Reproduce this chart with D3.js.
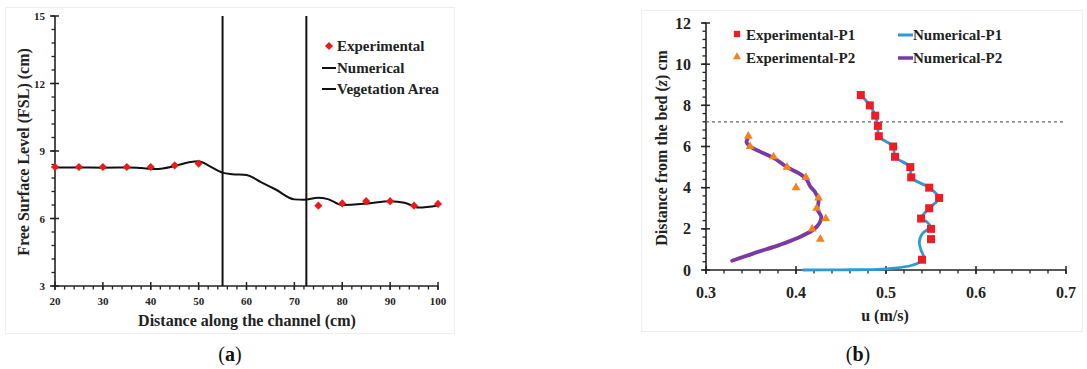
<!DOCTYPE html>
<html>
<head>
<meta charset="utf-8">
<script src="https://cdn.jsdelivr.net/npm/d3@7"></script>
<style>
  html, body { margin: 0; padding: 0; background: #fff; }
  svg { display: block; }
  svg text { font-family: "Liberation Serif", "DejaVu Serif", serif; }
</style>
</head>
<body>
<svg id="fig" width="1087" height="369"></svg>
<script>
// ---- Panel (a): free surface level along the channel ----
const expDistance = [20, 25, 30, 35, 40, 45, 50, 75, 80, 85, 90, 95, 100];
const expFSL      = [8.29, 8.29, 8.29, 8.29, 8.29, 8.36, 8.44, 6.57, 6.67, 6.77, 6.77, 6.57, 6.65];
const numDistance = [20, 25, 30, 35, 38, 41, 45, 48, 50, 52, 55, 57, 60, 63, 66, 70, 72, 75, 77, 80, 85, 90, 93, 96, 100];
const numFSL      = [8.27, 8.27, 8.26, 8.27, 8.24, 8.2, 8.33, 8.5, 8.55, 8.36, 8.04, 7.97, 7.93, 7.62, 7.3, 6.85, 6.83, 6.92, 6.86, 6.6, 6.66, 6.77, 6.7, 6.49, 6.58];
const vegetationEdges = [55, 72.5];
const ticksA_x = [20, 30, 40, 50, 60, 70, 80, 90, 100];
const ticksA_y = [3, 6, 9, 12, 15];

// ---- Panel (b): velocity profiles ----
const expP1_u = [0.472, 0.482, 0.488, 0.491, 0.492, 0.508, 0.51, 0.527, 0.528, 0.548, 0.559, 0.548, 0.539, 0.55, 0.55, 0.54];
const expP1_z = [8.5, 8.0, 7.5, 7.0, 6.5, 6.0, 5.5, 5.0, 4.5, 4.0, 3.5, 3.0, 2.5, 2.0, 1.5, 0.5];
const expP2_u = [0.347, 0.349, 0.375, 0.39, 0.411, 0.4, 0.425, 0.423, 0.433, 0.418, 0.427];
const expP2_z = [6.5, 6.0, 5.5, 5.0, 4.5, 4.0, 3.5, 3.0, 2.5, 2.0, 1.5];
const numP1_u = [0.472, 0.482, 0.488, 0.491, 0.492, 0.508, 0.51, 0.527, 0.528, 0.548, 0.559, 0.548, 0.539, 0.545, 0.549, 0.54, 0.537, 0.539, 0.542, 0.538, 0.528, 0.51, 0.49, 0.45, 0.408];
const numP1_z = [8.5, 8.0, 7.5, 7.0, 6.5, 6.0, 5.5, 5.0, 4.5, 4.0, 3.5, 3.0, 2.5, 2.35, 2.1, 1.75, 1.35, 0.95, 0.6, 0.4, 0.22, 0.09, 0.03, 0.01, 0.0];
const numP2_u = [0.346, 0.345, 0.349, 0.36, 0.375, 0.39, 0.406, 0.412, 0.416, 0.421, 0.425, 0.424, 0.428, 0.426, 0.419, 0.401, 0.382, 0.353, 0.329];
const numP2_z = [6.35, 6.2, 6.0, 5.75, 5.45, 5.0, 4.62, 4.38, 4.05, 3.8, 3.4, 2.92, 2.6, 2.27, 1.95, 1.54, 1.22, 0.81, 0.45];
const canopyHeight = 7.2;
const ticksB_x = [0.3, 0.4, 0.5, 0.6, 0.7];
const ticksB_y = [0, 2, 4, 6, 8, 10, 12];

const FONT = '"Liberation Serif", "DejaVu Serif", serif';
const svg = d3.select("#fig");

// light frames around each panel
svg.append("rect").attr("x", 5.5).attr("y", 7.5).attr("width", 449).attr("height", 326)
  .attr("fill", "none").attr("stroke", "#eeeeee").attr("stroke-width", 1);
svg.append("rect").attr("x", 641.5).attr("y", 10.5).attr("width", 441).attr("height", 321)
  .attr("fill", "none").attr("stroke", "#eeeeee").attr("stroke-width", 1);

// axis with crossing major ticks and outward minor ticks
function axisX(g, scale, y, majors, minorStep, fmt, fontSize, labelOffset) {
  const [d0, d1] = scale.domain();
  const minors = d3.range(d0, d1 + minorStep / 2, minorStep);
  const ga = g.append("g").attr("transform", `translate(0,${y})`);
  ga.append("line").attr("x1", scale(d0)).attr("x2", scale(d1)).attr("stroke", "#222").attr("stroke-width", 1.6);
  ga.selectAll("line.minor").data(minors).join("line").attr("class", "minor")
    .attr("x1", d => scale(d)).attr("x2", d => scale(d)).attr("y1", 0).attr("y2", 3.5)
    .attr("stroke", "#222").attr("stroke-width", 1.3);
  ga.selectAll("line.major").data(majors).join("line").attr("class", "major")
    .attr("x1", d => scale(d)).attr("x2", d => scale(d)).attr("y1", -4).attr("y2", 4)
    .attr("stroke", "#222").attr("stroke-width", 1.5);
  ga.selectAll("text").data(majors).join("text")
    .attr("x", d => scale(d)).attr("y", labelOffset)
    .attr("text-anchor", "middle").attr("dominant-baseline", "central")
    .attr("font-family", FONT).attr("font-size", fontSize).attr("font-weight", "bold").attr("fill", "#222")
    .text(fmt);
}
function axisY(g, scale, x, majors, minorStep, fmt, fontSize, labelOffset) {
  const [d0, d1] = scale.domain();
  const minors = d3.range(d0, d1 + minorStep / 2, minorStep);
  const ga = g.append("g").attr("transform", `translate(${x},0)`);
  ga.append("line").attr("y1", scale(d0)).attr("y2", scale(d1)).attr("stroke", "#222").attr("stroke-width", 1.6);
  ga.selectAll("line.minor").data(minors).join("line").attr("class", "minor")
    .attr("y1", d => scale(d)).attr("y2", d => scale(d)).attr("x1", -3.5).attr("x2", 0)
    .attr("stroke", "#222").attr("stroke-width", 1.3);
  ga.selectAll("line.major").data(majors).join("line").attr("class", "major")
    .attr("y1", d => scale(d)).attr("y2", d => scale(d)).attr("x1", -5).attr("x2", 4)
    .attr("stroke", "#222").attr("stroke-width", 1.5);
  ga.selectAll("text").data(majors).join("text")
    .attr("x", -labelOffset).attr("y", d => scale(d))
    .attr("text-anchor", "end").attr("dominant-baseline", "central")
    .attr("font-family", FONT).attr("font-size", fontSize).attr("font-weight", "bold").attr("fill", "#222")
    .text(fmt);
}
function label(g, x, y, size, bold) {
  return g.append("text").attr("x", x).attr("y", y).attr("dominant-baseline", "central")
    .attr("font-family", FONT).attr("font-size", size).attr("font-weight", bold ? "bold" : "normal").attr("fill", "#222");
}

// ================= Panel (a) =================
const xa = d3.scaleLinear().domain([20, 100]).range([55, 438]);
const ya = d3.scaleLinear().domain([3, 15]).range([286, 16]);
const ga = svg.append("g");

axisX(ga, xa, ya(3), ticksA_x, 2, d => d, 11, 15);
axisY(ga, ya, xa(20), ticksA_y, 0.6, d => d, 11, 10);

// vegetation area boundaries
ga.selectAll("line.veg").data(vegetationEdges).join("line").attr("class", "veg")
  .attr("x1", d => xa(d)).attr("x2", d => xa(d)).attr("y1", ya(15)).attr("y2", ya(3))
  .attr("stroke", "#111").attr("stroke-width", 2);

// numerical free surface
const numA = numDistance.map((d, i) => [d, numFSL[i]]);
ga.append("path").datum(numA)
  .attr("d", d3.line().x(d => xa(d[0])).y(d => ya(d[1])).curve(d3.curveMonotoneX))
  .attr("fill", "none").attr("stroke", "#111").attr("stroke-width", 2);

// experimental points (diamonds)
const diamond = d3.symbol().type(d3.symbolDiamond2 || d3.symbolDiamond).size(42);
ga.selectAll("path.exp").data(expDistance.map((d, i) => [d, expFSL[i]])).join("path").attr("class", "exp")
  .attr("d", diamond).attr("transform", d => `translate(${xa(d[0])},${ya(d[1])})`)
  .attr("fill", "#f01818");

// axis titles
label(ga, 247, 320, 16, true).attr("text-anchor", "middle").text("Distance along the channel (cm)");
label(ga, 0, 0, 16, true).attr("transform", "translate(23,152) rotate(-90)").attr("text-anchor", "middle")
  .text("Free Surface Level (FSL) (cm)");

// legend
const legA = ga.append("g");
legA.append("path").attr("d", diamond).attr("transform", "translate(329,46)").attr("fill", "#f01818");
legA.append("line").attr("x1", 322).attr("x2", 336).attr("y1", 68).attr("y2", 68).attr("stroke", "#111").attr("stroke-width", 2);
legA.append("line").attr("x1", 322).attr("x2", 336).attr("y1", 89).attr("y2", 89).attr("stroke", "#111").attr("stroke-width", 2);
[["Experimental", 46], ["Numerical", 68], ["Vegetation Area", 89]].forEach(([t, y]) => {
  label(legA, 337, y, 15, true).text(t);
});

// caption
label(svg, 230, 354, 20, false).attr("text-anchor", "middle").attr("fill", "#111")
  .call(t => { t.append("tspan").text("("); t.append("tspan").attr("font-weight", "bold").text("a"); t.append("tspan").text(")"); });

// ================= Panel (b) =================
const xb = d3.scaleLinear().domain([0.3, 0.7]).range([706, 1066]);
const yb = d3.scaleLinear().domain([0, 12]).range([270, 23]);
const gb = svg.append("g");

axisX(gb, xb, yb(0), ticksB_x, 0.02, d => d3.format(".1f")(d), 16, 22);
axisY(gb, yb, xb(0.3), ticksB_y, 0.4, d => d, 16, 15);

// canopy top
gb.append("line").attr("x1", xb(0.3)).attr("x2", xb(0.7)).attr("y1", yb(canopyHeight)).attr("y2", yb(canopyHeight))
  .attr("stroke", "#666").attr("stroke-width", 1.2).attr("stroke-dasharray", "3,3");

const lineB = d3.line().x(d => xb(d[0])).y(d => yb(d[1])).curve(d3.curveCatmullRom.alpha(0.5));
gb.append("path").datum(numP1_u.map((u, i) => [u, numP1_z[i]]))
  .attr("d", lineB).attr("fill", "none").attr("stroke", "#2a9bd8").attr("stroke-width", 2.8).attr("stroke-linecap", "round");
gb.append("path").datum(numP2_u.map((u, i) => [u, numP2_z[i]]))
  .attr("d", lineB).attr("fill", "none").attr("stroke", "#7a3aa2").attr("stroke-width", 3.8).attr("stroke-linecap", "round");

const square = d3.symbol().type(d3.symbolSquare).size(64);
const triangle = d3.symbol().type(d3.symbolTriangle).size(34);
gb.selectAll("path.p1").data(expP1_u.map((u, i) => [u, expP1_z[i]])).join("path").attr("class", "p1")
  .attr("d", square).attr("transform", d => `translate(${xb(d[0])},${yb(d[1])})`).attr("fill", "#ee1c25");
gb.selectAll("path.p2").data(expP2_u.map((u, i) => [u, expP2_z[i]])).join("path").attr("class", "p2")
  .attr("d", triangle).attr("transform", d => `translate(${xb(d[0])},${yb(d[1])})`).attr("fill", "#f5821f");

// axis titles
label(gb, 885, 315, 16, true).attr("text-anchor", "middle").text("u (m/s)");
label(gb, 0, 0, 16, true).attr("transform", "translate(661,148) rotate(-90)").attr("text-anchor", "middle")
  .call(t => {
    t.append("tspan").text("Distance from the bed (");
    t.append("tspan").attr("font-style", "italic").text("z");
    t.append("tspan").text(") cm");
  });

// legend
const legB = gb.append("g");
legB.append("path").attr("d", d3.symbol().type(d3.symbolSquare).size(40)).attr("transform", "translate(737,34)").attr("fill", "#ee1c25");
legB.append("path").attr("d", d3.symbol().type(d3.symbolTriangle).size(28)).attr("transform", "translate(737,57)").attr("fill", "#f5821f");
legB.append("line").attr("x1", 898).attr("x2", 913).attr("y1", 35).attr("y2", 35).attr("stroke", "#2a9bd8").attr("stroke-width", 3);
legB.append("line").attr("x1", 898).attr("x2", 913).attr("y1", 58).attr("y2", 58).attr("stroke", "#7a3aa2").attr("stroke-width", 3.5);
[["Experimental-P1", 746, 35], ["Experimental-P2", 746, 58], ["Numerical-P1", 913, 35], ["Numerical-P2", 913, 58]].forEach(([t, x, y]) => {
  label(legB, x, y, 15, true).text(t);
});

// caption
label(svg, 858, 354, 20, false).attr("text-anchor", "middle").attr("fill", "#111")
  .call(t => { t.append("tspan").text("("); t.append("tspan").attr("font-weight", "bold").text("b"); t.append("tspan").text(")"); });
</script>
</body>
</html>
